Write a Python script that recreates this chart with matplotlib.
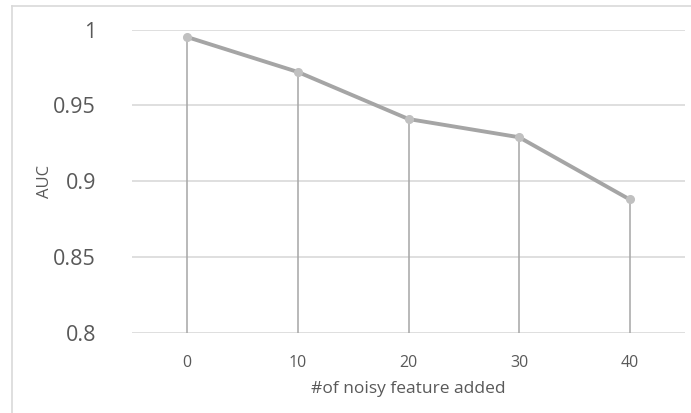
import matplotlib
matplotlib.use("Agg")
import matplotlib.pyplot as plt
from matplotlib.lines import Line2D

# Data
noisy_features = ["0", "10", "20", "30", "40"]
auc = [0.995, 0.972, 0.941, 0.929, 0.888]
y_ticks = [0.8, 0.85, 0.9, 0.95, 1.0]
y_tick_labels = ["0.8", "0.85", "0.9", "0.95", "1"]

W, H = 691, 413
fig = plt.figure(figsize=(W / 100, H / 100), dpi=100)
plt.rcParams["font.family"] = ["Open Sans", "DejaVu Sans"]

ax = fig.add_axes([132 / W, (H - 333) / H, (685 - 132) / W, (333 - 29.5) / H])

x = list(range(len(noisy_features)))
ax.set_xlim(-0.5, len(noisy_features) - 0.5)
ax.set_ylim(y_ticks[0], y_ticks[-1])

# Horizontal gridlines
for yt in y_ticks:
    ax.axhline(yt, color="#d9d9d9", lw=1.2, zorder=1)

# Drop lines from each point to the axis
ax.vlines(x, y_ticks[0], auc, color="#a6a6a6", lw=1.1, zorder=2)

# Main line with markers
ax.plot(x, auc, color="#a5a5a5", lw=2.8, zorder=3, solid_capstyle="round")
ax.plot(x, auc, linestyle="none", marker="o", ms=5.5, color="#c0c0c0",
        markeredgecolor="#c0c0c0", zorder=4)

for s in ax.spines.values():
    s.set_visible(False)

ax.set_yticks(y_ticks)
ax.set_yticklabels(y_tick_labels, fontsize=15.5, color="#595959")
ax.set_xticks(x)
ax.set_xticklabels(noisy_features, fontsize=11.5, color="#595959")
ax.tick_params(axis="both", length=0)
ax.tick_params(axis="y", pad=26)
ax.tick_params(axis="x", pad=16)

ax.set_xlabel("#of noisy feature added", fontsize=12.5, color="#595959", labelpad=7)
ax.set_ylabel("AUC", fontsize=12, color="#595959", labelpad=0)

# Chart frame (top and left edges)
fig.add_artist(Line2D([12 / W, 1.0], [(H - 6) / H, (H - 6) / H],
                      transform=fig.transFigure, color="#d9d9d9", lw=1.2))
fig.add_artist(Line2D([12 / W, 12 / W], [0, (H - 6) / H],
                      transform=fig.transFigure, color="#d9d9d9", lw=1.2))

fig.savefig("out.png", dpi=100, facecolor="white")
